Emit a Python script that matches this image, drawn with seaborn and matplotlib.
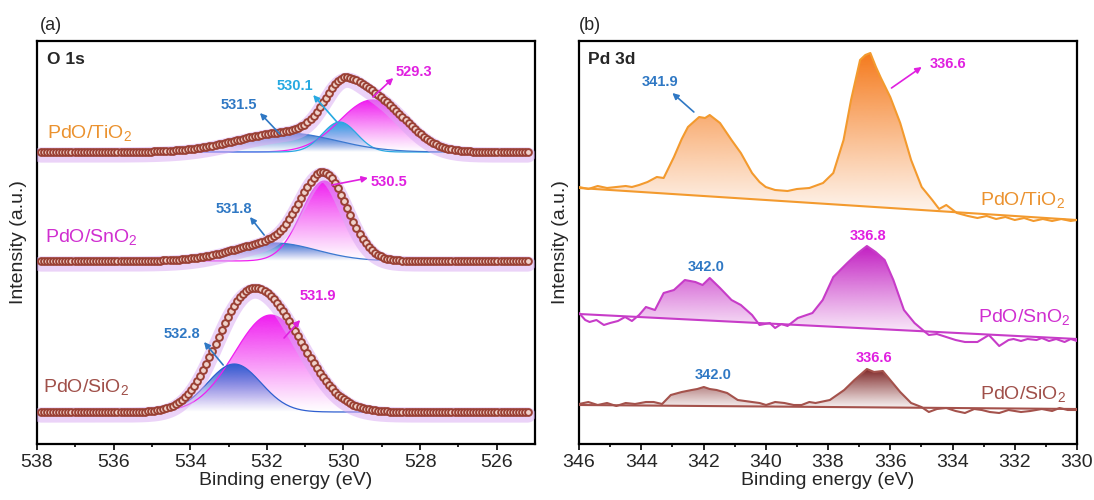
"""XPS O 1s and Pd 3d spectra of PdO on TiO2, SnO2 and SiO2"""
import numpy as np
import seaborn as sns
import matplotlib.pyplot as plt
from matplotlib.colors import to_rgb
from matplotlib.path import Path
from matplotlib.patches import PathPatch

# ---- O 1s: fitted components (centre eV, height, sigma eV) on an offset baseline
O1S_SAMPLES = ["PdO/SiO$_2$", "PdO/SnO$_2$", "PdO/TiO$_2$"]
O1S_OFFSET = [32, 183, 292]
O1S_CENTER = [[531.9, 532.85], [530.5, 531.8], [529.25, 530.1, 531.5]]
O1S_HEIGHT = [[97, 48], [80, 18], [52, 30, 19]]
O1S_SIGMA = [[0.95, 0.7], [0.6, 1.1], [0.85, 0.45, 1.3]]
O1S_COMP_COLOR = [["#f01ef0", "#2f5fd0"], ["#f01ef0", "#3b78d0"],
                  ["#f01ef0", "#2aa8e2", "#3b78d0"]]

# ---- Pd 3d: raw spectra (binding energy, intensity) and linear backgrounds
PD_E_TI = [346.0, 345.7, 345.4, 345.1, 344.8, 344.5, 344.3, 344.07, 343.8, 343.5,
           343.28, 342.95, 342.7, 342.5, 342.14, 341.95, 341.8, 341.47, 341.1, 340.8,
           340.44, 340.2, 340.0, 339.7, 339.3, 339.0, 338.6, 338.16, 337.83, 337.5,
           337.26, 336.97, 336.8, 336.64, 336.46, 336.3, 336.0, 335.68, 335.33, 334.99,
           334.65, 334.43, 334.2, 333.86, 333.5, 333.2, 332.9, 332.6, 332.3, 332.0,
           331.7, 331.4, 331.1, 330.8, 330.5, 330.2, 330.0]
PD_I_TI = [257, 255, 258, 256, 257, 258, 257, 259, 262, 267,
           266, 287, 305, 317, 327, 326, 329, 321, 304, 291,
           271, 262, 257, 254, 253, 255, 256, 261, 271, 304,
           344, 384, 389, 391, 377, 366, 347, 321, 284, 257,
           244, 235, 239, 231, 228, 226, 228, 225, 227, 224,
           226, 223, 225, 223, 225, 223, 224]
PD_BG_TI = [256, 224]

PD_E_SN = [346.0, 345.8, 345.66, 345.44, 345.2, 345.0, 344.75, 344.52, 344.3, 344.07,
           343.85, 343.56, 343.28, 342.95, 342.6, 342.26, 342.03, 341.8, 341.47, 341.1,
           340.8, 340.44, 340.2, 339.87, 339.7, 339.5, 339.3, 338.97, 338.5, 338.17,
           337.83, 337.38, 337.04, 336.75, 336.47, 336.18, 335.9, 335.56, 335.22, 334.88,
           334.76, 334.5, 334.2, 333.9, 333.6, 333.2, 332.83, 332.5, 332.2, 332.04,
           331.8, 331.59, 331.3, 331.13, 330.9, 330.67, 330.4, 330.2, 330.0]
PD_I_SN = [131, 124, 122, 124, 119, 121, 123, 127, 123, 129,
           137, 134, 151, 154, 164, 162, 159, 166, 156, 144,
           139, 129, 119, 121, 116, 120, 118, 126, 131, 144,
           167, 181, 191, 198, 192, 184, 164, 134, 121, 112,
           109, 110, 107, 104, 102, 102, 109, 98, 104, 105,
           103, 105, 104, 106, 103, 105, 102, 105, 103]
PD_BG_SN = [130, 105]

PD_E_SI = [346.0, 345.7, 345.4, 345.1, 344.8, 344.5, 344.2, 343.85, 343.6, 343.33,
           343.05, 342.7, 342.38, 342.2, 341.99, 341.8, 341.58, 341.24, 340.9, 340.44,
           340.2, 339.99, 339.7, 339.4, 339.1, 338.85, 338.6, 338.4, 337.94, 337.48,
           337.15, 336.75, 336.52, 336.24, 336.0, 335.68, 335.33, 335.0, 334.76, 334.5,
           334.2, 333.9, 333.6, 333.3, 333.06, 332.8, 332.5, 332.2, 331.8, 331.5,
           331.13, 330.8, 330.56, 330.3, 330.0]
PD_I_SI = [40, 42, 39, 41, 38, 41, 40, 42, 42, 40,
           49, 52, 54, 55, 57, 55, 54, 51, 44, 42,
           41, 39, 42, 41, 39, 39, 42, 41, 44, 54,
           64, 75, 72, 73, 64, 52, 41, 37, 32, 35,
           36, 33, 31, 35, 34, 32, 31, 34, 32, 33,
           35, 33, 36, 34, 34]
PD_BG_SI = [39, 35]

PD_SAMPLES = ["PdO/TiO$_2$", "PdO/SnO$_2$", "PdO/SiO$_2$"]
PD_COLORS = ["#f39a2e", "#c73cc8", "#a4524c"]
PD_FILL = ["#f57a1c", "#c21ec2", "#7e2626"]

BLUE_T = "#2f78c4"
CYAN_T = "#27a9e1"
MAG_T = "#e020e0"
SAMPLE_T = {"PdO/TiO$_2$": "#eb922f", "PdO/SnO$_2$": "#d02fd0", "PdO/SiO$_2$": "#a0504a"}

sns.set_style("ticks")
plt.rcParams["font.family"] = ["Liberation Sans", "DejaVu Sans"]
plt.rcParams["mathtext.fontset"] = "custom"
plt.rcParams["mathtext.rm"] = "Liberation Sans"
plt.rcParams["mathtext.it"] = "Liberation Sans:italic"
plt.rcParams["mathtext.bf"] = "Liberation Sans:bold"


def gauss(e, c, h, s):
    return h * np.exp(-(e - c) ** 2 / (2 * s ** 2))


def grad_fill(ax, x, y, base, color, z=1, amin=0.03):
    """fill between curve and base with a vertical colour gradient"""
    x = np.asarray(x, float)
    y = np.asarray(y, float)
    base = np.broadcast_to(np.asarray(base, float), x.shape)
    coll = ax.fill_between(x, y, base, where=y > base, interpolate=True,
                           facecolor="none", edgecolor="none")
    path = Path.make_compound_path(*coll.get_paths())
    patch = PathPatch(path, transform=ax.transData, facecolor="none", edgecolor="none")
    ax.add_patch(patch)
    t = np.linspace(0, 1, 256)[:, None]
    img = np.zeros((256, 1, 4))
    img[..., :3] = to_rgb(color)
    img[..., 3] = amin + (1 - amin) * t ** 1.1
    im = ax.imshow(img, extent=[x.min(), x.max(), base.min(), y.max()],
                   origin="lower", aspect="auto", zorder=z, interpolation="bilinear")
    im.set_clip_path(patch)


def note(ax, text, txy, tail=None, head=None, color="k", size=10.5):
    if tail is not None:
        ax.annotate("", xy=head, xytext=tail,
                    arrowprops=dict(arrowstyle="-|>", color=color, lw=1.2,
                                    mutation_scale=9, shrinkA=0, shrinkB=0),
                    zorder=9)
    ax.text(txy[0], txy[1], text, color=color, fontsize=size, fontweight="bold",
            ha="center", va="center", zorder=9)


fig = plt.figure(figsize=(10.94, 5.0), dpi=100)
ax1 = fig.add_axes([37 / 1094, 56 / 500, 498 / 1094, 403 / 500])
ax2 = fig.add_axes([579 / 1094, 56 / 500, 498 / 1094, 403 / 500])

# ---------------- (a) O 1s
E = np.arange(537.9, 525.15, -0.05)
ED = np.arange(537.9, 525.15, -0.08)
for k in range(3):
    off = O1S_OFFSET[k]
    env = np.zeros_like(ED)
    for c, h, s, col in zip(O1S_CENTER[k], O1S_HEIGHT[k], O1S_SIGMA[k], O1S_COMP_COLOR[k]):
        comp = gauss(E, c, h, s) + off
        grad_fill(ax1, E, comp, off, col, z=2, amin=0.0)
        sns.lineplot(x=E, y=comp, ax=ax1, color=col, lw=0.9, sort=False, zorder=3)
        env += gauss(ED, c, h, s)
    env += off
    ax1.plot(ED, env - 3, color="#d9a8f2", lw=11, alpha=0.5, zorder=4,
             solid_capstyle="round")
    sns.scatterplot(x=ED, y=env, ax=ax1, s=24, color="#efd2cb", edgecolor="#9a4034",
                    linewidth=1.4, zorder=6)

ax1.text(537.74, 384, "O 1s", fontsize=12.5, fontweight="bold", va="center", ha="left")
ax1.text(537.75, 311, "PdO/TiO$_2$", fontsize=14, color=SAMPLE_T["PdO/TiO$_2$"],
         va="center", ha="left")
ax1.text(537.8, 207, "PdO/SnO$_2$", fontsize=14, color=SAMPLE_T["PdO/SnO$_2$"],
         va="center", ha="left")
ax1.text(537.84, 57, "PdO/SiO$_2$", fontsize=14, color=SAMPLE_T["PdO/SiO$_2$"],
         va="center", ha="left")

note(ax1, "529.3", (528.16, 372), (529.23, 347), (528.7, 366), MAG_T)
note(ax1, "530.1", (531.26, 358), (530.17, 322), (530.79, 349), CYAN_T)
note(ax1, "531.5", (532.74, 339), (531.66, 310), (532.18, 331), BLUE_T)
note(ax1, "530.5", (528.81, 262), (530.3, 259), (529.36, 266), MAG_T)
note(ax1, "531.8", (532.86, 235), (532.07, 209), (532.44, 227), BLUE_T)
note(ax1, "531.9", (530.66, 148), (531.55, 106), (531.13, 124), MAG_T)
note(ax1, "532.8", (534.21, 110), (533.14, 79), (533.64, 102), BLUE_T)

ax1.set_xlim(538, 525)
ax1.set_xticks(np.arange(538, 524, -2))
ax1.set_xticks(np.arange(537, 525, -2), minor=True)

# ---------------- (b) Pd 3d
pd_e = [PD_E_TI, PD_E_SN, PD_E_SI]
pd_i = [PD_I_TI, PD_I_SN, PD_I_SI]
pd_bg = [PD_BG_TI, PD_BG_SN, PD_BG_SI]
for k in range(3):
    x = np.array(pd_e[k])
    y = np.array(pd_i[k])
    b0, b1 = pd_bg[k]
    bg = b0 + (b1 - b0) * (346 - x) / 16.0
    grad_fill(ax2, x, y, bg, PD_FILL[k], z=1, amin=0.05)
    sns.lineplot(x=x, y=y, ax=ax2, color=PD_COLORS[k], lw=1.5, sort=False, zorder=3)
    sns.lineplot(x=[346, 330], y=[b0, b1], ax=ax2, color=PD_COLORS[k], lw=1.5, zorder=3)

ax2.text(345.71, 384, "Pd 3d", fontsize=12.5, fontweight="bold", va="center", ha="left")
ax2.text(330.4, 244, "PdO/TiO$_2$", fontsize=14, color=SAMPLE_T["PdO/TiO$_2$"],
         va="center", ha="right")
ax2.text(330.22, 127, "PdO/SnO$_2$", fontsize=14, color=SAMPLE_T["PdO/SnO$_2$"],
         va="center", ha="right")
ax2.text(330.34, 50, "PdO/SiO$_2$", fontsize=14, color=SAMPLE_T["PdO/SiO$_2$"],
         va="center", ha="right")

note(ax2, "341.9", (343.4, 362), (342.31, 332), (343.0, 351), BLUE_T)
note(ax2, "336.6", (334.14, 380), (335.96, 356), (334.99, 377), MAG_T)
note(ax2, "336.8", (336.7, 208), color=MAG_T)
note(ax2, "342.0", (341.92, 177), color=BLUE_T)
note(ax2, "342.0", (341.69, 69), color=BLUE_T)
note(ax2, "336.6", (336.52, 86), color=MAG_T)

ax2.set_xlim(346, 330)
ax2.set_xticks(np.arange(346, 329, -2))
ax2.set_xticks(np.arange(345, 330, -2), minor=True)

for ax in (ax1, ax2):
    ax.set_ylim(0, 403)
    ax.set_yticks([])
    ax.set_xlabel("Binding energy (eV)", fontsize=14, labelpad=1)
    ax.set_ylabel("Intensity (a.u.)", fontsize=14, labelpad=7)
    ax.tick_params(axis="x", which="major", labelsize=14, length=4, width=1.4,
                   direction="out", pad=3)
    ax.tick_params(axis="x", which="minor", length=2.5, width=1.4, direction="out")
    for sp in ax.spines.values():
        sp.set_visible(True)
        sp.set_linewidth(1.6)
        sp.set_color("black")

fig.text(40 / 1094, 1 - 25 / 500, "(a)", fontsize=13, va="center", ha="left")
fig.text(579 / 1094, 1 - 25 / 500, "(b)", fontsize=13, va="center", ha="left")

fig.savefig("out.png", dpi=100)
